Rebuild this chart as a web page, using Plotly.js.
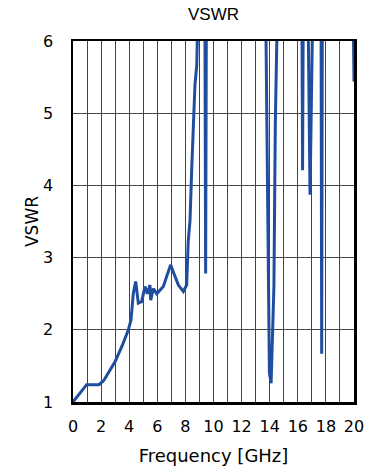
<!DOCTYPE html>
<html><head><meta charset="utf-8">
<script src="https://cdn.plot.ly/plotly-3.0.1.min.js"></script>
<style>body{margin:0;background:#fff}#chart{width:372px;height:472px}</style>
</head><body><div id="chart"></div>
<script>
var freq = [0, 0.5, 0.97, 1.4, 1.85, 2.2, 2.5, 3.0, 3.5, 3.94, 4.13, 4.29, 4.46, 4.56, 4.65, 4.89, 5.12, 5.29, 5.48, 5.53, 5.72, 5.96, 6.2, 6.43, 6.67, 6.95, 7.14, 7.5, 7.85, 8.09, 8.2, 8.33, 8.45, 8.56, 8.68, 8.81, 8.87, 8.95, 9.38, 9.44, 9.5, 13.7, 13.74, 13.88, 13.98, 14.1, 14.3, 14.4, 14.51, 14.6, 16.28, 16.34, 16.4, 16.7, 16.75, 16.87, 17.03, 17.1, 17.65, 17.7, 17.75, 19.9, 20];
var vswr = [1, 1.13, 1.24, 1.24, 1.24, 1.3, 1.4, 1.56, 1.78, 2.0, 2.14, 2.5, 2.67, 2.5, 2.37, 2.39, 2.6, 2.5, 2.62, 2.41, 2.57, 2.5, 2.55, 2.6, 2.74, 2.9, 2.8, 2.62, 2.53, 2.62, 3.22, 3.52, 4.23, 4.74, 5.39, 5.67, 6, 7, 7, 2.78, 7, 7, 6, 3.4, 1.4, 1.26, 2.6, 4.86, 6, 7, 7, 4.21, 7, 7, 6, 3.87, 6, 7, 7, 1.67, 7, 7, 5.44];
var xTicks = [0, 2, 4, 6, 8, 10, 12, 14, 16, 18, 20];
var yTicks = [1, 2, 3, 4, 5, 6];

var fam = 'DejaVu Sans, sans-serif';
Plotly.newPlot('chart', [{
  x: freq, y: vswr, type: 'scatter', mode: 'lines',
  line: {color: '#1f4ea1', width: 3}, hoverinfo: 'skip'
}], {
  width: 372, height: 472,
  margin: {l: 73, r: 18, t: 41, b: 70},
  paper_bgcolor: '#fff', plot_bgcolor: '#fff',
  showlegend: false,
  font: {family: fam, size: 16, color: '#000'},
  title: {text: 'VSWR', font: {family: 'Liberation Sans, Arial, sans-serif', size: 17, color: '#000'}, x: 0.574, xanchor: 'center', y: 0.97, yanchor: 'middle'},
  xaxis: {
    range: [0, 20], tickvals: xTicks, ticktext: xTicks.map(String), ticks: '',
    showgrid: true, gridcolor: '#444', gridwidth: 1,
    minor: {dtick: 1, showgrid: true, gridcolor: '#444', gridwidth: 1},
    showline: true, mirror: true, linecolor: '#000', linewidth: 2.5,
    zeroline: false, ticklabelstandoff: 8, tickfont: {size: 16},
    title: {text: 'Frequency [GHz]', font: {size: 18}, standoff: 15}
  },
  yaxis: {
    range: [1, 6], tickvals: yTicks, ticktext: yTicks.map(String), ticks: '',
    showgrid: true, gridcolor: '#444', gridwidth: 1,
    showline: true, mirror: true, linecolor: '#000', linewidth: 2.5,
    zeroline: false, ticklabelstandoff: 14, tickfont: {size: 16},
    title: {text: 'VSWR', font: {size: 17}, standoff: 0}
  }
}, {staticPlot: true});
</script></body></html>
